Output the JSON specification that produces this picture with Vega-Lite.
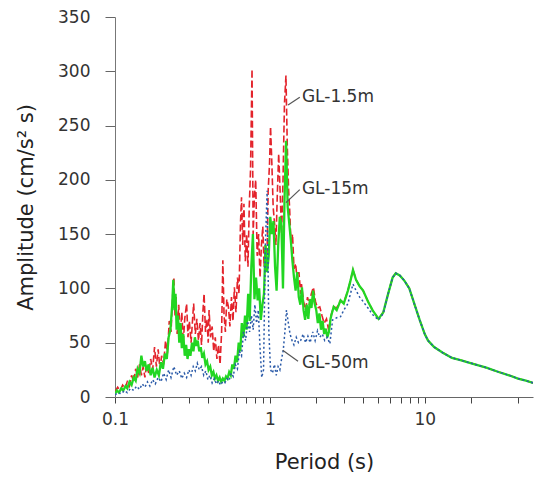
{
  "$schema": "https://vega.github.io/schema/vega-lite/v6.json",
  "autosize": "none",
  "width": 418,
  "height": 380,
  "padding": {"left": 115, "top": 17, "right": 2, "bottom": 84},
  "background": "white",
  "config": {"view": {"stroke": null}, "font": "DejaVu Sans"},
  "datasets": {
    "g": [
      {"p":0.100,"a":3},{"p":0.103,"a":6},{"p":0.106,"a":4},{"p":0.110,"a":8},{"p":0.113,"a":6},{"p":0.117,"a":10},{"p":0.120,"a":8},{"p":0.124,"a":14},{"p":0.128,"a":11},{"p":0.132,"a":18},{"p":0.136,"a":15},{"p":0.140,"a":26},{"p":0.144,"a":22},{"p":0.148,"a":38},{"p":0.152,"a":28},{"p":0.156,"a":33},{"p":0.160,"a":24},{"p":0.165,"a":30},{"p":0.170,"a":20},{"p":0.175,"a":27},{"p":0.180,"a":18},{"p":0.186,"a":25},{"p":0.192,"a":20},{"p":0.198,"a":32},{"p":0.204,"a":26},{"p":0.210,"a":40},{"p":0.216,"a":35},{"p":0.222,"a":55},{"p":0.228,"a":62},{"p":0.234,"a":85},{"p":0.238,"a":108},{"p":0.242,"a":80},{"p":0.246,"a":95},{"p":0.250,"a":62},{"p":0.255,"a":75},{"p":0.260,"a":50},{"p":0.265,"a":68},{"p":0.270,"a":45},{"p":0.276,"a":58},{"p":0.282,"a":38},{"p":0.288,"a":48},{"p":0.294,"a":35},{"p":0.300,"a":44},{"p":0.307,"a":38},{"p":0.314,"a":50},{"p":0.321,"a":42},{"p":0.328,"a":55},{"p":0.335,"a":47},{"p":0.342,"a":52},{"p":0.350,"a":42},{"p":0.358,"a":46},{"p":0.366,"a":36},{"p":0.375,"a":40},{"p":0.384,"a":30},{"p":0.393,"a":33},{"p":0.402,"a":25},{"p":0.412,"a":28},{"p":0.422,"a":20},{"p":0.432,"a":23},{"p":0.442,"a":17},{"p":0.452,"a":20},{"p":0.463,"a":15},{"p":0.474,"a":18},{"p":0.485,"a":14},{"p":0.497,"a":17},{"p":0.509,"a":15},{"p":0.521,"a":19},{"p":0.533,"a":17},{"p":0.546,"a":23},{"p":0.559,"a":20},{"p":0.572,"a":30},{"p":0.586,"a":26},{"p":0.600,"a":38},{"p":0.614,"a":32},{"p":0.629,"a":50},{"p":0.644,"a":42},{"p":0.659,"a":68},{"p":0.675,"a":55},{"p":0.691,"a":75},{"p":0.707,"a":62},{"p":0.724,"a":95},{"p":0.741,"a":70},{"p":0.759,"a":120},{"p":0.777,"a":150},{"p":0.795,"a":90},{"p":0.814,"a":110},{"p":0.834,"a":89},{"p":0.853,"a":100},{"p":0.874,"a":71},{"p":0.895,"a":85},{"p":0.916,"a":95},{"p":0.938,"a":140},{"p":0.960,"a":115},{"p":0.983,"a":130},{"p":1.006,"a":166},{"p":1.030,"a":150},{"p":1.055,"a":162},{"p":1.080,"a":120},{"p":1.105,"a":98},{"p":1.132,"a":140},{"p":1.159,"a":166},{"p":1.186,"a":160},{"p":1.215,"a":100},{"p":1.243,"a":181},{"p":1.273,"a":236},{"p":1.303,"a":175},{"p":1.334,"a":160},{"p":1.366,"a":144},{"p":1.399,"a":125},{"p":1.432,"a":110},{"p":1.466,"a":98},{"p":1.501,"a":115},{"p":1.537,"a":92},{"p":1.574,"a":85},{"p":1.611,"a":101},{"p":1.650,"a":80},{"p":1.689,"a":71},{"p":1.729,"a":85},{"p":1.771,"a":72},{"p":1.813,"a":90},{"p":1.856,"a":82},{"p":1.901,"a":98},{"p":1.946,"a":86},{"p":1.993,"a":80},{"p":2.040,"a":68},{"p":2.089,"a":77},{"p":2.139,"a":62},{"p":2.190,"a":70},{"p":2.242,"a":58},{"p":2.296,"a":63},{"p":2.351,"a":55},{"p":2.407,"a":60},{"p":2.464,"a":72},{"p":2.523,"a":78},{"p":2.583,"a":83},{"p":2.700,"a":80},{"p":2.860,"a":89},{"p":3.000,"a":86},{"p":3.190,"a":98},{"p":3.300,"a":106},{"p":3.440,"a":117},{"p":3.600,"a":108},{"p":3.800,"a":102},{"p":4.000,"a":98},{"p":4.300,"a":88},{"p":4.600,"a":80},{"p":5.030,"a":72},{"p":5.400,"a":78},{"p":5.800,"a":95},{"p":6.200,"a":110},{"p":6.500,"a":114},{"p":6.900,"a":112},{"p":7.400,"a":107},{"p":7.950,"a":100},{"p":8.600,"a":85},{"p":9.270,"a":71},{"p":10.00,"a":58},{"p":10.50,"a":52},{"p":11.50,"a":46},{"p":13.00,"a":41},{"p":15.00,"a":36},{"p":17.00,"a":34},{"p":20.00,"a":31},{"p":25.00,"a":27},{"p":30.00,"a":23},{"p":35.00,"a":20},{"p":40.00,"a":17},{"p":45.00,"a":15},{"p":50.00,"a":13}
    ],
    "r": [
      {"p":0.100,"a":5},{"p":0.104,"a":9},{"p":0.108,"a":6},{"p":0.112,"a":11},{"p":0.116,"a":8},{"p":0.120,"a":14},{"p":0.124,"a":10},{"p":0.128,"a":20},{"p":0.132,"a":14},{"p":0.136,"a":26},{"p":0.140,"a":18},{"p":0.144,"a":30},{"p":0.148,"a":20},{"p":0.152,"a":28},{"p":0.156,"a":18},{"p":0.160,"a":30},{"p":0.165,"a":22},{"p":0.170,"a":35},{"p":0.175,"a":25},{"p":0.180,"a":46},{"p":0.185,"a":28},{"p":0.190,"a":44},{"p":0.195,"a":26},{"p":0.200,"a":38},{"p":0.206,"a":30},{"p":0.212,"a":52},{"p":0.218,"a":40},{"p":0.224,"a":70},{"p":0.230,"a":60},{"p":0.236,"a":95},{"p":0.240,"a":110},{"p":0.244,"a":75},{"p":0.248,"a":92},{"p":0.252,"a":58},{"p":0.258,"a":85},{"p":0.264,"a":55},{"p":0.270,"a":78},{"p":0.276,"a":50},{"p":0.282,"a":72},{"p":0.290,"a":86},{"p":0.296,"a":55},{"p":0.302,"a":70},{"p":0.310,"a":50},{"p":0.318,"a":75},{"p":0.322,"a":86},{"p":0.330,"a":58},{"p":0.338,"a":72},{"p":0.346,"a":52},{"p":0.354,"a":68},{"p":0.362,"a":48},{"p":0.370,"a":80},{"p":0.376,"a":95},{"p":0.384,"a":60},{"p":0.392,"a":72},{"p":0.400,"a":50},{"p":0.405,"a":80},{"p":0.414,"a":55},{"p":0.424,"a":65},{"p":0.434,"a":42},{"p":0.444,"a":55},{"p":0.455,"a":35},{"p":0.466,"a":48},{"p":0.477,"a":30},{"p":0.488,"a":60},{"p":0.497,"a":126},{"p":0.506,"a":75},{"p":0.516,"a":60},{"p":0.527,"a":90},{"p":0.540,"a":83},{"p":0.552,"a":65},{"p":0.565,"a":92},{"p":0.578,"a":70},{"p":0.590,"a":101},{"p":0.604,"a":78},{"p":0.618,"a":110},{"p":0.632,"a":95},{"p":0.646,"a":160},{"p":0.656,"a":184},{"p":0.668,"a":140},{"p":0.680,"a":178},{"p":0.694,"a":125},{"p":0.708,"a":150},{"p":0.722,"a":120},{"p":0.736,"a":175},{"p":0.750,"a":209},{"p":0.767,"a":302},{"p":0.780,"a":150},{"p":0.795,"a":185},{"p":0.810,"a":200},{"p":0.828,"a":130},{"p":0.846,"a":150},{"p":0.864,"a":110},{"p":0.882,"a":140},{"p":0.900,"a":157},{"p":0.918,"a":120},{"p":0.936,"a":140},{"p":0.955,"a":118},{"p":0.975,"a":190},{"p":0.995,"a":215},{"p":1.010,"a":249},{"p":1.030,"a":215},{"p":1.050,"a":175},{"p":1.072,"a":160},{"p":1.094,"a":140},{"p":1.116,"a":185},{"p":1.140,"a":224},{"p":1.164,"a":190},{"p":1.190,"a":150},{"p":1.216,"a":200},{"p":1.242,"a":270},{"p":1.270,"a":296},{"p":1.296,"a":230},{"p":1.322,"a":190},{"p":1.340,"a":175},{"p":1.370,"a":140},{"p":1.400,"a":150},{"p":1.432,"a":118},{"p":1.466,"a":123},{"p":1.500,"a":108},{"p":1.540,"a":115},{"p":1.580,"a":95},{"p":1.600,"a":104},{"p":1.650,"a":88},{"p":1.700,"a":80},{"p":1.750,"a":92},{"p":1.800,"a":85},{"p":1.850,"a":95},{"p":1.910,"a":101},{"p":1.970,"a":88},{"p":2.030,"a":82},{"p":2.100,"a":83},{"p":2.170,"a":75},{"p":2.240,"a":68},{"p":2.320,"a":72},{"p":2.400,"a":61},{"p":2.480,"a":75},{"p":2.580,"a":83},{"p":2.700,"a":82},{"p":2.860,"a":89},{"p":3.000,"a":87},{"p":3.190,"a":98},{"p":3.300,"a":106},{"p":3.440,"a":117},{"p":3.600,"a":108},{"p":3.800,"a":102},{"p":4.000,"a":98},{"p":4.300,"a":88},{"p":4.600,"a":80},{"p":5.030,"a":72},{"p":5.400,"a":78},{"p":5.800,"a":95},{"p":6.200,"a":110},{"p":6.500,"a":114},{"p":6.900,"a":112},{"p":7.400,"a":107},{"p":7.950,"a":100},{"p":8.600,"a":85},{"p":9.270,"a":71},{"p":10.00,"a":58},{"p":10.50,"a":52},{"p":11.50,"a":46},{"p":13.00,"a":41},{"p":15.00,"a":36},{"p":17.00,"a":34},{"p":20.00,"a":31},{"p":25.00,"a":27},{"p":30.00,"a":23},{"p":35.00,"a":20},{"p":40.00,"a":17},{"p":45.00,"a":15},{"p":50.00,"a":13}
    ],
    "b": [
      {"p":0.100,"a":2},{"p":0.105,"a":4},{"p":0.110,"a":3},{"p":0.115,"a":6},{"p":0.120,"a":4},{"p":0.126,"a":8},{"p":0.132,"a":6},{"p":0.138,"a":10},{"p":0.144,"a":7},{"p":0.150,"a":12},{"p":0.156,"a":9},{"p":0.162,"a":14},{"p":0.168,"a":10},{"p":0.175,"a":16},{"p":0.182,"a":12},{"p":0.190,"a":18},{"p":0.198,"a":14},{"p":0.206,"a":22},{"p":0.214,"a":16},{"p":0.222,"a":25},{"p":0.230,"a":18},{"p":0.240,"a":28},{"p":0.250,"a":20},{"p":0.260,"a":24},{"p":0.270,"a":17},{"p":0.280,"a":22},{"p":0.290,"a":18},{"p":0.300,"a":25},{"p":0.310,"a":20},{"p":0.320,"a":28},{"p":0.330,"a":24},{"p":0.340,"a":31},{"p":0.350,"a":25},{"p":0.362,"a":28},{"p":0.374,"a":20},{"p":0.386,"a":24},{"p":0.398,"a":16},{"p":0.410,"a":20},{"p":0.424,"a":13},{"p":0.438,"a":17},{"p":0.452,"a":12},{"p":0.466,"a":15},{"p":0.480,"a":11},{"p":0.496,"a":14},{"p":0.512,"a":13},{"p":0.528,"a":17},{"p":0.545,"a":15},{"p":0.562,"a":22},{"p":0.580,"a":19},{"p":0.598,"a":30},{"p":0.617,"a":26},{"p":0.636,"a":42},{"p":0.656,"a":38},{"p":0.676,"a":60},{"p":0.697,"a":52},{"p":0.718,"a":70},{"p":0.740,"a":60},{"p":0.760,"a":75},{"p":0.780,"a":62},{"p":0.800,"a":85},{"p":0.820,"a":68},{"p":0.842,"a":80},{"p":0.864,"a":45},{"p":0.886,"a":18},{"p":0.910,"a":25},{"p":0.935,"a":140},{"p":0.960,"a":190},{"p":0.985,"a":60},{"p":1.010,"a":25},{"p":1.040,"a":22},{"p":1.070,"a":30},{"p":1.100,"a":20},{"p":1.130,"a":28},{"p":1.160,"a":25},{"p":1.190,"a":35},{"p":1.220,"a":43},{"p":1.250,"a":60},{"p":1.280,"a":80},{"p":1.310,"a":70},{"p":1.350,"a":58},{"p":1.390,"a":52},{"p":1.430,"a":48},{"p":1.480,"a":55},{"p":1.530,"a":50},{"p":1.580,"a":52},{"p":1.640,"a":58},{"p":1.700,"a":50},{"p":1.760,"a":56},{"p":1.820,"a":50},{"p":1.890,"a":60},{"p":1.960,"a":52},{"p":2.030,"a":61},{"p":2.100,"a":55},{"p":2.180,"a":58},{"p":2.260,"a":52},{"p":2.350,"a":55},{"p":2.440,"a":49},{"p":2.540,"a":71},{"p":2.700,"a":73},{"p":2.860,"a":74},{"p":3.000,"a":80},{"p":3.190,"a":86},{"p":3.440,"a":104},{"p":3.600,"a":98},{"p":3.800,"a":92},{"p":4.000,"a":88},{"p":4.300,"a":82},{"p":4.600,"a":76},{"p":5.030,"a":71},{"p":5.400,"a":77},{"p":5.800,"a":95},{"p":6.200,"a":110},{"p":6.500,"a":114},{"p":6.900,"a":112},{"p":7.400,"a":107},{"p":7.950,"a":100},{"p":8.600,"a":85},{"p":9.270,"a":71},{"p":10.00,"a":58},{"p":10.50,"a":52},{"p":11.50,"a":46},{"p":13.00,"a":41},{"p":15.00,"a":36},{"p":17.00,"a":34},{"p":20.00,"a":31},{"p":25.00,"a":27},{"p":30.00,"a":23},{"p":35.00,"a":20},{"p":40.00,"a":17},{"p":45.00,"a":15},{"p":50.00,"a":13}
    ],
    "lab": [
      {"t":"GL-1.5m","p":1.61,"a":276,"p1":1.31,"a1":269,"p2":1.56,"a2":276},
      {"t":"GL-15m","p":1.61,"a":192,"p1":1.27,"a1":179,"p2":1.56,"a2":191},
      {"t":"GL-50m","p":1.61,"a":31,"p1":1.21,"a1":43,"p2":1.52,"a2":33}
    ]
  },
  "encoding": {
    "x": {
      "field": "p", "type": "quantitative",
      "scale": {"type": "log", "domain": [0.1, 50], "nice": false},
      "axis": {
        "title": "Period (s)", "titleFontSize": 21, "titleFontWeight": "normal", "titleColor": "#222", "titlePadding": 24,
        "values": [0.1,0.2,0.3,0.4,0.5,0.6,0.7,0.8,0.9,1,2,3,4,5,6,7,8,9,10,20,40],
        "labelExpr": "(datum.value == 0.1 || datum.value == 1 || datum.value == 10) ? datum.label : ''",
        "format": "~g", "labelFontSize": 17, "labelColor": "#333", "labelPadding": 8,
        "grid": false, "tickSize": 6, "tickColor": "#444", "domainColor": "#666", "labelFlush": false, "labelOverlap": false
      }
    },
    "y": {
      "field": "a", "type": "quantitative",
      "scale": {"domain": [0, 350], "nice": false},
      "axis": {
        "title": "Amplitude (cm/s² s)", "titleFontSize": 21, "titleFontWeight": "normal", "titleColor": "#222", "titlePadding": 21,
        "values": [0,50,100,150,200,250,300,350],
        "labelFontSize": 17, "labelColor": "#333", "labelPadding": 15,
        "grid": false, "tickSize": 10, "tickColor": "#666", "domainColor": "#777"
      }
    }
  },
  "layer": [
    {"data": {"name": "r"}, "mark": {"type": "line", "color": "#e3232b", "strokeWidth": 1.6, "strokeDash": [7, 3], "clip": true}},
    {"data": {"name": "g"}, "mark": {"type": "line", "color": "#22d622", "strokeWidth": 2.3, "clip": true}},
    {"data": {"name": "b"}, "mark": {"type": "line", "color": "#2a5aa8", "strokeWidth": 1.5, "strokeDash": [2, 2.5], "clip": true}},
    {"data": {"name": "lab"}, "mark": {"type": "rule", "color": "#555", "strokeWidth": 1.2},
      "encoding": {"x": {"field": "p1", "type": "quantitative"}, "y": {"field": "a1", "type": "quantitative"}, "x2": {"field": "p2"}, "y2": {"field": "a2"}}},
    {"data": {"name": "lab"}, "mark": {"type": "text", "align": "left", "baseline": "middle", "fontSize": 17, "color": "#333"},
      "encoding": {"text": {"field": "t"}}}
  ]
}
